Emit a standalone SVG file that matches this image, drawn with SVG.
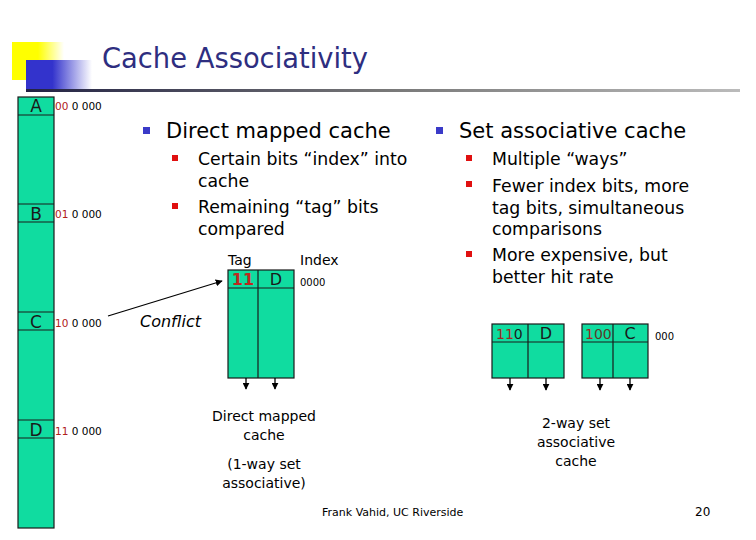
<svg xmlns="http://www.w3.org/2000/svg" width="756" height="540" viewBox="0 0 756 540">
<defs>
<linearGradient id="gy" x1="0" y1="0" x2="1" y2="0"><stop offset="0" stop-color="#ffff00"/><stop offset="0.5" stop-color="#ffff00"/><stop offset="1" stop-color="#ffffff"/></linearGradient>
<linearGradient id="gb" x1="0" y1="0" x2="1" y2="0"><stop offset="0" stop-color="#3333cc"/><stop offset="0.4" stop-color="#3333cc"/><stop offset="1" stop-color="#ffffff"/></linearGradient>
<linearGradient id="gl" x1="0" y1="0" x2="1" y2="0"><stop offset="0" stop-color="#222244"/><stop offset="0.5" stop-color="#777777"/><stop offset="1" stop-color="#bbbbbb"/></linearGradient>
<marker id="ah" viewBox="0 0 10 10" refX="9" refY="5" markerWidth="7" markerHeight="7" orient="auto" markerUnits="userSpaceOnUse"><path d="M0,0 L10,5 L0,10 z" fill="#000"/></marker>
<marker id="dn" viewBox="0 0 10 10" refX="9" refY="5" markerWidth="7" markerHeight="7" orient="auto" markerUnits="userSpaceOnUse"><path d="M0,0 L10,5 L0,10 z" fill="#000"/></marker>
</defs>
<style>
.s{font-family:"DejaVu Sans","Liberation Sans",sans-serif;}
.cell{fill:#10dca0;stroke:#1a1a1a;stroke-width:1.2;}
.ln{stroke:#1a1a1a;stroke-width:1.2;fill:none;}
.red{fill:#b0201a;}
.bb{fill:#3a3ac8;}
.rb{fill:#e01010;}
</style>
<rect width="756" height="540" fill="#fff"/>
<!-- logo -->
<rect x="12" y="42" width="52" height="38" fill="url(#gy)"/>
<rect x="26" y="60" width="66" height="30" fill="url(#gb)"/>
<rect x="26" y="89" width="714" height="3" fill="url(#gl)"/>
<text class="s" x="102" y="68" font-size="28" textLength="266" lengthAdjust="spacingAndGlyphs" fill="#2e2e80">Cache Associativity</text>

<!-- memory column -->
<g id="memory">
<rect class="cell" x="18" y="97" width="36" height="431"/>
<line class="ln" x1="18" y1="115" x2="54" y2="115"/>
<line class="ln" x1="18" y1="204" x2="54" y2="204"/>
<line class="ln" x1="18" y1="222" x2="54" y2="222"/>
<line class="ln" x1="18" y1="312" x2="54" y2="312"/>
<line class="ln" x1="18" y1="330" x2="54" y2="330"/>
<line class="ln" x1="18" y1="420" x2="54" y2="420"/>
<line class="ln" x1="18" y1="438" x2="54" y2="438"/>
<text class="s" x="36" y="112" font-size="17" text-anchor="middle" fill="#1a1a1a">A</text>
<text class="s" x="36" y="220" font-size="17" text-anchor="middle" fill="#1a1a1a">B</text>
<text class="s" x="36" y="328" font-size="17" text-anchor="middle" fill="#1a1a1a">C</text>
<text class="s" x="36" y="436" font-size="17" text-anchor="middle" fill="#1a1a1a">D</text>
<text class="s" x="55" y="110" font-size="10.5"><tspan class="red">00</tspan> 0 000</text>
<text class="s" x="55" y="218" font-size="10.5"><tspan class="red">01</tspan> 0 000</text>
<text class="s" x="55" y="327" font-size="10.5"><tspan class="red">10</tspan> 0 000</text>
<text class="s" x="55" y="435" font-size="10.5"><tspan class="red">11</tspan> 0 000</text>
</g>

<!-- bullets left -->
<g id="direct-text">
<rect class="bb" x="143" y="127" width="7" height="7"/>
<text class="s" x="166" y="138" font-size="21">Direct mapped cache</text>
<rect class="rb" x="172" y="155" width="6" height="6"/>
<text class="s" x="198" y="165" font-size="17.3">Certain bits “index” into</text>
<text class="s" x="198" y="187" font-size="17.3">cache</text>
<rect class="rb" x="172" y="203" width="6" height="6"/>
<text class="s" x="198" y="213" font-size="17.3">Remaining “tag” bits</text>
<text class="s" x="198" y="235" font-size="17.3">compared</text>
</g>

<g id="set-text">
<rect class="bb" x="436" y="127" width="7" height="7"/>
<text class="s" x="459" y="138" font-size="21">Set associative cache</text>
<rect class="rb" x="466" y="155" width="6" height="6"/>
<text class="s" x="492" y="165" font-size="17.3">Multiple “ways”</text>
<rect class="rb" x="466" y="181" width="6" height="6"/>
<text class="s" x="492" y="192" font-size="17.3">Fewer index bits, more</text>
<text class="s" x="492" y="214" font-size="17.3">tag bits, simultaneous</text>
<text class="s" x="492" y="235" font-size="17.3">comparisons</text>
<rect class="rb" x="466" y="251" width="6" height="6"/>
<text class="s" x="492" y="261" font-size="17.3">More expensive, but</text>
<text class="s" x="492" y="283" font-size="17.3">better hit rate</text>
</g>

<!-- direct mapped cache -->
<g id="direct-cache">
<text class="s" x="228" y="265" font-size="14">Tag</text>
<text class="s" x="300" y="265" font-size="14">Index</text>
<rect class="cell" x="228" y="270" width="66" height="108"/>
<line class="ln" x1="258" y1="270" x2="258" y2="378"/>
<line class="ln" x1="228" y1="288" x2="294" y2="288"/>
<text class="s" x="243" y="285" font-size="16" font-weight="bold" text-anchor="middle" fill="#c0281e">11</text>
<text class="s" x="276" y="285" font-size="16" text-anchor="middle" fill="#1a1a1a">D</text>
<text class="s" x="300" y="286" font-size="10">0000</text>
<text class="s" x="264" y="421" font-size="14" text-anchor="middle">Direct mapped</text>
<text class="s" x="264" y="440" font-size="14" text-anchor="middle">cache</text>
<text class="s" x="264" y="469" font-size="14" text-anchor="middle">(1-way set</text>
<text class="s" x="264" y="488" font-size="14" text-anchor="middle">associative)</text>
</g>

<!-- set associative cache -->
<g id="set-cache">
<rect class="cell" x="492" y="324" width="72" height="54"/>
<line class="ln" x1="528" y1="324" x2="528" y2="378"/>
<line class="ln" x1="492" y1="342" x2="564" y2="342"/>
<rect class="cell" x="582" y="324" width="66" height="54"/>
<line class="ln" x1="613" y1="324" x2="613" y2="378"/>
<line class="ln" x1="582" y1="342" x2="648" y2="342"/>
<text class="s" x="496" y="339" font-size="14" fill="#1a1a1a"><tspan fill="#a0281e">11</tspan>0</text>
<text class="s" x="546" y="339" font-size="16" text-anchor="middle" fill="#1a1a1a">D</text>
<text class="s" x="585" y="339" font-size="14" fill="#1a1a1a"><tspan fill="#a0281e">1</tspan><tspan fill="#5a3a28">00</tspan></text>
<text class="s" x="630" y="339" font-size="16" text-anchor="middle" fill="#1a1a1a">C</text>
<text class="s" x="655" y="340" font-size="10">000</text>
<text class="s" x="576" y="428" font-size="14" text-anchor="middle">2-way set</text>
<text class="s" x="576" y="447" font-size="14" text-anchor="middle">associative</text>
<text class="s" x="576" y="466" font-size="14" text-anchor="middle">cache</text>
</g>

<!-- connectors -->
<g id="connectors" stroke="#000" stroke-width="1.3" fill="none">
<line x1="108" y1="316" x2="222" y2="281" marker-end="url(#ah)"/>
<line x1="246" y1="378" x2="246" y2="389" marker-end="url(#dn)"/>
<line x1="275" y1="378" x2="275" y2="389" marker-end="url(#dn)"/>
<line x1="510" y1="378" x2="510" y2="390" marker-end="url(#dn)"/>
<line x1="546" y1="378" x2="546" y2="390" marker-end="url(#dn)"/>
<line x1="600" y1="378" x2="600" y2="390" marker-end="url(#dn)"/>
<line x1="630" y1="378" x2="630" y2="390" marker-end="url(#dn)"/>
</g>
<text class="s" x="140" y="327" font-size="16" font-style="italic">Conflict</text>

<text class="s" x="322" y="516" font-size="11">Frank Vahid, UC Riverside</text>
<text class="s" x="695" y="516" font-size="12">20</text>
</svg>
